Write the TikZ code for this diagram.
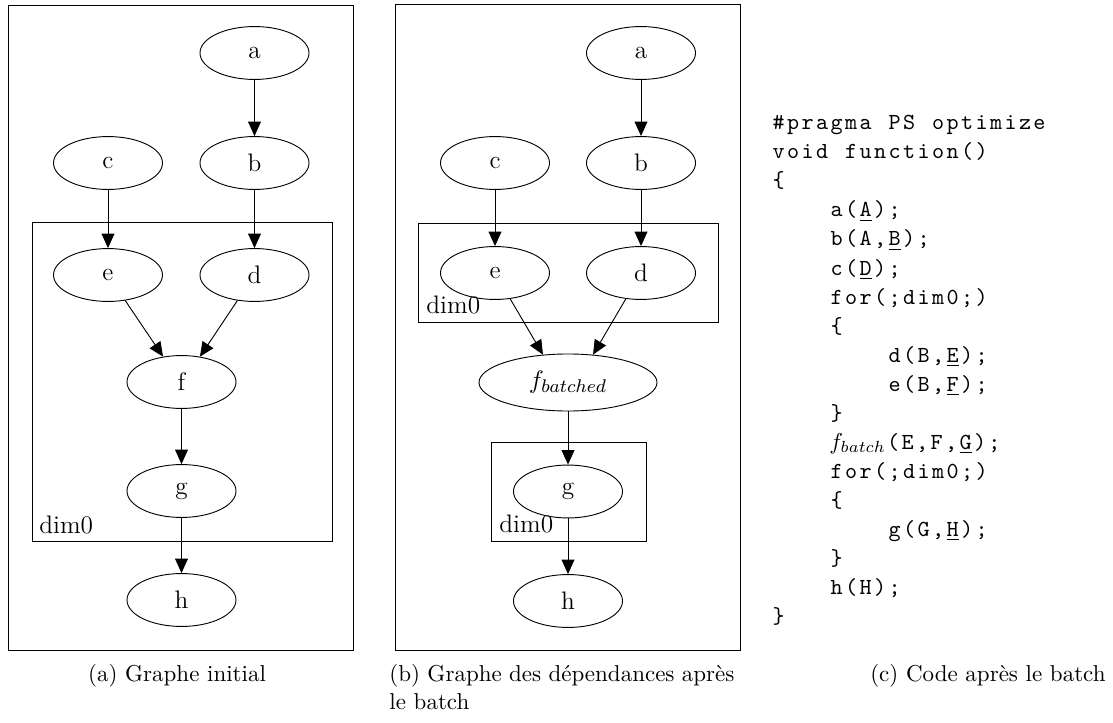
\documentclass[tikz,border=0pt]{standalone}
\usetikzlibrary{arrows.meta,shapes.geometric}
\newcommand\mcw{6.3pt}
\def\monoendmark{\monoendmark}
\def\monoloop#1{\def\monotmp{#1}\ifx\monotmp\monoendmark\else\makebox[\mcw]{#1}\expandafter\monoloop\fi}
\newcommand\mono[1]{\monoloop#1\monoendmark}
\begin{document}
\begin{tikzpicture}[x=0.4348pt,y=-0.4348pt,
  nd/.style={ellipse, draw, line width=0.4pt, minimum width=47.4pt, minimum height=23pt, inner sep=0pt, font=\fontsize{11}{13}\selectfont},
  wide/.style={nd, minimum width=77.4pt, minimum height=24.8pt},
  edge/.style={line width=0.4pt, -{Triangle[length=6.3pt,width=5.6pt]}},
  frame/.style={draw, line width=0.4pt},
  lbl/.style={anchor=base west, inner sep=0pt, font=\fontsize{11}{13}\selectfont},
  code/.style={anchor=base west, inner sep=0pt, font=\ttfamily\fontsize{10}{12}\selectfont},
  capt/.style={inner sep=0pt, font=\fontsize{10}{12}\selectfont}]
\useasboundingbox (0,0) rectangle (1113,722);
% ---------- (a) ----------
\draw[frame] (8,5) rectangle (353,650);
\draw[frame] (32,222) rectangle (332,541);
\node[lbl] (dA) at (39,533) {dim0};
\node[nd] (a1) at (254.5,53) {a};
\node[nd] (b1) at (254.5,163) {b};
\node[nd] (c1) at (108,163) {c};
\node[nd] (e1) at (108,275) {e};
\node[nd] (d1) at (254.5,275) {d};
\node[nd] (f1) at (181.5,382) {f};
\node[nd] (g1) at (181.5,491) {g};
\node[nd] (h1) at (181.5,600) {h};
\draw[edge] (a1) -- (b1);
\draw[edge] (b1) -- (d1);
\draw[edge] (c1) -- (e1);
\draw[edge] (e1) -- (f1.126);
\draw[edge] (d1) -- (f1.54);
\draw[edge] (f1) -- (g1);
\draw[edge] (g1) -- (h1);
% ---------- (b) ----------
\draw[frame] (395,4) rectangle (740,650);
\draw[frame] (418,223) rectangle (718,322);
\draw[frame] (491,442) rectangle (646,541);
\node[lbl] (dB1) at (426,313) {dim0};
\node[lbl] (dB2) at (499,532) {dim0};
\node[nd] (a2) at (641,53) {a};
\node[nd] (b2) at (641,163) {b};
\node[nd] (c2) at (495,163) {c};
\node[nd] (e2) at (495,273) {e};
\node[nd] (d2) at (641,273) {d};
\node[wide] (f2) at (568,382.5) {$f_{batched}$};
\node[nd] (g2) at (568,491.5) {g};
\node[nd] (h2) at (568,601) {h};
\draw[edge] (a2) -- (b2);
\draw[edge] (b2) -- (d2);
\draw[edge] (c2) -- (e2);
\draw[edge] (e2) -- (f2.132);
\draw[edge] (d2) -- (f2.48);
\draw[edge] (f2) -- (g2);
\draw[edge] (g2) -- (h2);
% ---------- (c) code ----------
\node[code] (l0) at (771,130) {\mono{\#pragma~PS~optimize}};
\node[code] (l1) at (771,159) {\mono{void~function()}};
\node[code] (l2) at (771,188) {\mono{\{}};
\node[code] (l3) at (829,217) {\mono{a({\underline{A}});}};
\node[code] (l4) at (829,246) {\mono{b(A,{\underline{B}});}};
\node[code] (l5) at (829,275) {\mono{c({\underline{D}});}};
\node[code] (l6) at (829,304) {\mono{for(;dim0;)}};
\node[code] (l7) at (829,333) {\mono{\{}};
\node[code] (l8) at (887,362) {\mono{d(B,{\underline{E}});}};
\node[code] (l9) at (887,391) {\mono{e(B,{\underline{F}});}};
\node[code] (l10) at (829,420) {\mono{\}}};
\node[code] (l11) at (829,449) {$f_{batch}$\mono{(E,F,{\underline{G}});}};
\node[code] (l12) at (829,478) {\mono{for(;dim0;)}};
\node[code] (l13) at (829,507) {\mono{\{}};
\node[code] (l14) at (887,536) {\mono{g(G,{\underline{H}});}};
\node[code] (l15) at (829,565) {\mono{\}}};
\node[code] (l16) at (829,594) {\mono{h(H);}};
\node[code] (l17) at (771,623) {\mono{\}}};
% ---------- captions ----------
\node[capt, anchor=base] (capA) at (177,681) {(a) Graphe initial};
\node[capt, anchor=base west] (capB1) at (389,681) {\makebox[150pt][s]{(b) Graphe des dépendances après}};
\node[capt, anchor=base west] (capB2) at (389,709) {le batch};
\node[capt, anchor=base east] (capC) at (1106,681) {(c) Code après le batch};
\end{tikzpicture}
\end{document}
